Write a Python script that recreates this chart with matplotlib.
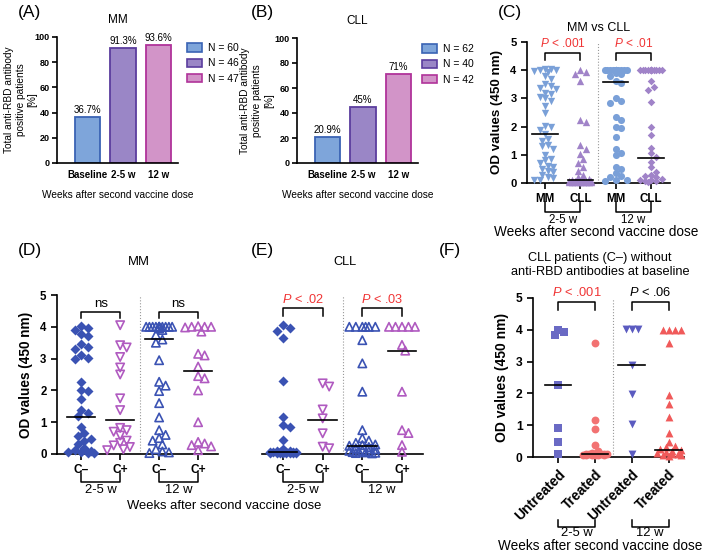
import numpy as np
import matplotlib
matplotlib.use('Agg')
import matplotlib.pyplot as plt
from matplotlib.patches import Patch

plt.rcParams['font.family'] = 'Liberation Sans'
plt.rcParams['mathtext.fontset'] = 'custom'
plt.rcParams['mathtext.rm'] = 'Liberation Sans'
plt.rcParams['mathtext.it'] = 'Liberation Sans:italic'

W, H = 709, 554

# ---- data ----
bar_cats = ['Baseline', '2-5 w', '12 w']
mm_pct = [36.7, 91.3, 93.6]
mm_pct_lbl = ['36.7%', '91.3%', '93.6%']
mm_n = [60, 46, 47]
cll_pct = [20.9, 45, 71]
cll_pct_lbl = ['20.9%', '45%', '71%']
cll_n = [62, 40, 42]

# (C) MM vs CLL
c_cats = ['MM', 'CLL', 'MM', 'CLL']
c_mm25 = [4.05, 4.03, 4.0, 4.0, 3.98, 3.95, 3.78, 3.7, 3.5, 3.45, 3.38, 3.32, 3.2, 3.15,
          3.05, 3.0, 2.9, 2.72, 2.5, 2.02, 1.98, 1.88, 1.72, 1.55, 1.5, 1.35, 1.3, 1.2,
          1.0, 0.85, 0.8, 0.72, 0.62, 0.58, 0.5, 0.42, 0.38, 0.3, 0.22, 0.18, 0.12, 0.1]
c_cll25 = [4.0, 3.92, 3.85, 3.62, 2.25, 2.15, 1.35, 1.2, 1.02, 0.85, 0.7, 0.55, 0.42, 0.3,
           0.22, 0.15, 0.1, 0.09, 0.08, 0.08, 0.07, 0.07, 0.06, 0.06, 0.05, 0.05, 0.05,
           0.04, 0.04, 0.03, 0.03, 0.03, 0.02, 0.02, 0.02, 0.02]
c_mm12 = [4.0] * 18 + [3.9, 3.85, 3.8, 3.6, 3.55, 3.0, 2.9, 2.85, 2.35, 2.25, 2.0, 1.95,
                       1.62, 1.2, 1.05, 1.0, 0.55, 0.5, 0.35, 0.25, 0.2, 0.12, 0.1, 0.08]
c_cll12 = [4.0] * 14 + [3.6, 3.42, 3.3, 2.87, 1.98, 1.7, 1.25, 1.05, 0.92, 0.75, 0.55, 0.4,
                        0.3, 0.25, 0.2, 0.15, 0.12, 0.1, 0.08, 0.06, 0.05]
c_med = [1.72, 0.1, 3.58, 0.9]

# (D) MM, C- / C+
d_cats = ['C–', 'C+', 'C–', 'C+']
d_25_cneg = [4.02, 3.97, 3.9, 3.78, 3.72, 3.45, 3.35, 3.3, 3.1, 3.02, 2.98, 2.27, 2.0,
             1.97, 1.72, 1.38, 1.3, 1.18, 0.85, 0.65, 0.58, 0.48, 0.42, 0.3, 0.2, 0.12,
             0.08, 0.06, 0.05, 0.04, 0.03]
d_25_cpos = [4.05, 3.42, 3.35, 3.05, 2.72, 2.5, 1.75, 1.38, 0.82, 0.75, 0.7, 0.58, 0.42,
             0.35, 0.27, 0.22, 0.15, 0.12]
d_12_cneg = [4.0] * 12 + [3.95, 3.9, 3.75, 3.6, 3.5, 2.95, 2.27, 2.15, 1.98, 1.6, 1.15,
                          0.75, 0.6, 0.5, 0.42, 0.3, 0.15, 0.08, 0.05, 0.03]
d_12_cpos = [4.02, 4.0, 4.0, 3.98, 4.0, 3.85, 3.15, 3.1, 2.75, 2.45, 2.38, 2.0, 1.0, 0.38,
             0.33, 0.28, 0.24, 0.12]
d_med = [1.17, 1.08, 3.63, 2.62]

# (E) CLL, C- / C+
e_25_cneg = [4.05, 3.97, 3.88, 3.65, 2.28, 1.17, 0.92, 0.85, 0.44, 0.15, 0.1, 0.08, 0.07,
             0.06, 0.06, 0.05, 0.05, 0.05, 0.04, 0.04, 0.04, 0.03, 0.03, 0.03, 0.02, 0.02]
e_25_cpos = [2.22, 2.12, 1.4, 1.12, 0.65, 0.23, 0.18]
e_12_cneg = [4.0] * 6 + [3.58, 2.85, 1.96, 0.75, 0.5, 0.42, 0.35, 0.3, 0.28, 0.26, 0.22,
                         0.18, 0.15, 0.12, 0.1, 0.08, 0.07, 0.06, 0.05, 0.04, 0.03, 0.02]
e_12_cpos = [4.0, 4.0, 4.0, 4.0, 4.0, 3.43, 3.25, 1.96, 0.75, 0.66, 0.28, 0.07]
e_med = [0.07, 1.07, 0.26, 3.24]

# (F) CLL C- untreated / treated
f_cats = ['Untreated', 'Treated', 'Untreated', 'Treated']
f_un25 = [3.83, 3.94, 4.0, 2.26, 0.9, 0.47, 0.11]
f_tr25 = [3.6, 1.15, 0.87, 0.37, 0.2, 0.12, 0.11, 0.1, 0.1, 0.09, 0.09, 0.08, 0.08, 0.07,
          0.07, 0.06, 0.06, 0.05, 0.05]
f_un12 = [4.03, 4.03, 4.03, 2.88, 1.98, 1.04, 0.11]
f_tr12 = [4.0, 4.0, 4.0, 3.98, 3.57, 1.95, 1.68, 1.27, 0.75, 0.47, 0.35, 0.3, 0.25, 0.22,
          0.2, 0.15, 0.12, 0.1, 0.08, 0.06, 0.05, 0.04]
f_med = [2.26, 0.1, 2.88, 0.22]

RED = '#f03535'
LBLUE = '#7aa0d8'
LPURP = '#a083c8'
DBLUE = '#3a52b3'
PURP = '#b05ac0'
bar_face = ['#7ea5da', '#9a86c6', '#d294c8']
bar_edge = ['#3a63b4', '#5b3d9e', '#b0339a']

fig = plt.figure(figsize=(W / 100, H / 100), dpi=100)


def add_axes(l, r, t, b):
    return fig.add_axes([l / W, 1 - b / H, (r - l) / W, (b - t) / H])


def style(ax, lw=1.2):
    for s in ['top', 'right']:
        ax.spines[s].set_visible(False)
    for s in ['left', 'bottom']:
        ax.spines[s].set_linewidth(lw)
    ax.tick_params(width=lw, length=4, direction='out')


def swarm(vals, sx, sy, diam, wmax):
    vals = np.asarray(vals, float)
    order = np.argsort(-vals, kind='stable')
    step = diam * 0.5
    cands = [0.0]
    k = 1
    while k * step <= wmax:
        cands += [k * step, -k * step]
        k += 1
    placed = []
    offs = np.zeros(len(vals))
    for i in order:
        y = vals[i] * sy
        best, best_d = 0.0, -1
        for c in cands:
            dmin = min((np.hypot(c - px, y - py) for px, py in placed), default=1e9)
            if dmin >= diam:
                best = c
                break
            if dmin > best_d:
                best_d, best = dmin, c
        placed.append((best, y))
        offs[i] = best / sx
    return offs


def bar_panel(ax, pct, lbls, ns, title, ylab_x):
    x = np.arange(len(pct))
    ax.bar(x, pct, width=0.73, color=bar_face, edgecolor=bar_edge, linewidth=1.3)
    for xi, p, l in zip(x, pct, lbls):
        ax.text(xi, p + 1.5, l, ha='center', va='bottom', fontsize=7)
    ax.set_xlim(-0.86, 2.55)
    ax.set_ylim(0, 100)
    ax.set_yticks(np.arange(0, 101, 20))
    ax.set_xticks(x)
    ax.set_xticklabels(bar_cats, fontweight='bold', fontsize=7)
    style(ax)
    ax.tick_params(axis='x', length=0, pad=5)
    ax.tick_params(axis='y', labelsize=6.5, length=3.5, pad=2)
    for t in ax.get_yticklabels():
        t.set_fontweight('bold')
    ax.set_title(title, fontsize=8.5, pad=10)
    ax.set_ylabel('Total anti-RBD antibody\npositive patients\n[%]', fontsize=7.3,
                  linespacing=1.25)
    ax.yaxis.set_label_coords(ylab_x, 0.5)
    ax.set_xlabel('Weeks after second vaccine dose', fontsize=7.3, labelpad=7)
    handles = [Patch(facecolor=f, edgecolor=e, lw=1.2, label=f'N = {n}')
               for f, e, n in zip(bar_face, bar_edge, ns)]
    return handles


def od_panel(ax, groups, meds, styles, xlim, cats, fs, yaxis=True, wmax=13, diam=6):
    ax.set_xlim(*xlim)
    ax.set_ylim(0, 5)
    fig.canvas.draw()
    bb = ax.get_window_extent()
    sx = bb.width / (xlim[1] - xlim[0])
    sy = bb.height / 5
    ax.axvline(1.5, color='#999999', ls=':', lw=0.8)
    for i, (vals, st) in enumerate(zip(groups, styles)):
        off = swarm(vals, sx, sy, diam, wmax)
        ax.scatter(i + off, vals, clip_on=False, zorder=3, **st)
    for i, m in enumerate(meds):
        ax.plot([i - 0.36, i + 0.36], [m, m], color='k', lw=1.2, zorder=4)
    ax.set_xticks(range(4))
    ax.set_xticklabels(cats, fontweight='bold', fontsize=fs)
    style(ax)
    if yaxis:
        ax.set_yticks(range(6))
        ax.tick_params(axis='y', labelsize=fs - 0.3)
        for t in ax.get_yticklabels():
            t.set_fontweight('bold')
        ax.set_ylabel('OD values (450 nm)', fontweight='bold', fontsize=fs + 1.2, labelpad=5)
    else:
        ax.spines['left'].set_visible(False)
        ax.set_yticks([])


def p_bracket(ax, x0, x1, yl, ye, label, yt, color, fs):
    ax.plot([x0, x0, x1, x1], [ye, yl, yl, ye], color='k', lw=1.1, clip_on=False)
    ax.text((x0 + x1) / 2, yt, label, ha='center', va='center', color=color,
            fontsize=fs, clip_on=False)


def group_bracket(ax, x0, x1, yt, yb, label, ytxt, fs):
    tr = ax.get_xaxis_transform()
    ax.plot([x0, x0, x1, x1], [yt, yb, yb, yt], color='k', lw=1.1, transform=tr,
            clip_on=False)
    ax.text((x0 + x1) / 2, ytxt, label, transform=tr, ha='center', va='center',
            fontsize=fs)


# ---- (A) ----
axA = add_axes(57, 178, 37, 163)
h = bar_panel(axA, mm_pct, mm_pct_lbl, mm_n, 'MM', -0.16)
axA.legend(handles=h, loc='upper left', bbox_to_anchor=(182 / W, 1 - 38 / H),
           bbox_transform=fig.transFigure, frameon=False, fontsize=7.5, borderpad=0,
           handlelength=1.4, handleheight=0.85, handletextpad=0.6, labelspacing=0.5)
fig.text(30 / W, 1 - 12 / H, '(A)', fontsize=12.5, ha='center', va='center')

# ---- (B) ----
axB = add_axes(297, 418, 38, 163)
h = bar_panel(axB, cll_pct, cll_pct_lbl, cll_n, 'CLL', -0.19)
axB.legend(handles=h, loc='upper left', bbox_to_anchor=(417 / W, 1 - 39 / H),
           bbox_transform=fig.transFigure, frameon=False, fontsize=7.5, borderpad=0,
           handlelength=1.4, handleheight=0.85, handletextpad=0.6, labelspacing=0.5)
fig.text(262 / W, 1 - 12 / H, '(B)', fontsize=12.5, ha='center', va='center')

# ---- (C) ----
axC = add_axes(527, 670, 42, 183)
c_styles = [dict(marker='v', s=28, color=LBLUE, linewidths=0),
            dict(marker='^', s=28, color=LPURP, linewidths=0),
            dict(marker='o', s=26, color=LBLUE, linewidths=0),
            dict(marker='D', s=15, color=LPURP, linewidths=0)]
od_panel(axC, [c_mm25, c_cll25, c_mm12, c_cll12], c_med, c_styles, (-0.51, 3.54), c_cats,
         8.4, wmax=11, diam=5.5)
axC.set_title('MM vs CLL', fontsize=9, pad=8)
p_bracket(axC, 0, 1, 4.6, 4.36, r'$\mathit{P}$ < .001', 4.95, RED, 8.6)
p_bracket(axC, 2, 3, 4.6, 4.36, r'$\mathit{P}$ < .01', 4.95, RED, 8.6)
group_bracket(axC, 0, 1, -0.135, -0.206, '2-5 w', -0.262, 8.3)
group_bracket(axC, 2, 3, -0.135, -0.206, '12 w', -0.262, 8.3)
fig.text(596 / W, 1 - 232 / H, 'Weeks after second vaccine dose', fontsize=9.8,
         ha='center', va='center')
fig.text(510 / W, 1 - 13 / H, '(C)', fontsize=12.5, ha='center', va='center')

# ---- (D) ----
axD = add_axes(57, 218, 295, 454)
d_styles = [dict(marker='D', s=26, color=DBLUE, linewidths=0),
            dict(marker='v', s=36, facecolors='none', edgecolors=PURP, linewidths=1.2),
            dict(marker='^', s=36, facecolors='none', edgecolors=DBLUE, linewidths=1.2),
            dict(marker='^', s=36, facecolors='none', edgecolors=PURP, linewidths=1.2)]
od_panel(axD, [d_25_cneg, d_25_cpos, d_12_cneg, d_12_cpos], d_med, d_styles,
         (-0.62, 3.51), d_cats, 8.6, wmax=14, diam=6.5)
p_bracket(axD, 0, 1, 4.47, 4.27, 'ns', 4.72, 'k', 9.5)
p_bracket(axD, 2, 3, 4.47, 4.27, 'ns', 4.72, 'k', 9.5)
group_bracket(axD, 0, 1, -0.12, -0.176, '2-5 w', -0.228, 9.4)
group_bracket(axD, 2, 3, -0.12, -0.176, '12 w', -0.228, 9.4)
fig.text(139 / W, 1 - 262 / H, 'MM', fontsize=9.4, ha='center', va='center')
fig.text(224 / W, 1 - 506 / H, 'Weeks after second vaccine dose', fontsize=9.4,
         ha='center', va='center')
fig.text(30 / W, 1 - 250 / H, '(D)', fontsize=12.5, ha='center', va='center')

# ---- (E) ----
axE = add_axes(262, 423, 295, 454)
od_panel(axE, [e_25_cneg, e_25_cpos, e_12_cneg, e_12_cpos], e_med, d_styles,
         (-0.53, 3.53), d_cats, 8.6, yaxis=False, wmax=14, diam=6.5)
p_bracket(axE, 0, 1, 4.59, 4.34, r'$\mathit{P}$ < .02', 4.87, RED, 9.2)
p_bracket(axE, 2, 3, 4.59, 4.34, r'$\mathit{P}$ < .03', 4.87, RED, 9.2)
group_bracket(axE, 0, 1, -0.12, -0.176, '2-5 w', -0.228, 9.4)
group_bracket(axE, 2, 3, -0.12, -0.176, '12 w', -0.228, 9.4)
fig.text(345 / W, 1 - 262 / H, 'CLL', fontsize=9.2, ha='center', va='center')
fig.text(262 / W, 1 - 250 / H, '(E)', fontsize=12.5, ha='center', va='center')
fig.text(450 / W, 1 - 250 / H, '(F)', fontsize=12.5, ha='center', va='center')

# ---- (F) ----
axF = add_axes(533, 684, 298, 457)
f_styles = [dict(marker='s', s=26, color='#6a6ac4', linewidths=0),
            dict(marker='o', s=32, color='#f27272', linewidths=0),
            dict(marker='v', s=32, color='#5b5bc0', linewidths=0),
            dict(marker='^', s=32, color='#f05a5a', linewidths=0)]
od_panel(axF, [f_un25, f_tr25, f_un12, f_tr12], f_med, f_styles, (-0.68, 3.42), f_cats,
         9, wmax=13, diam=6)
for t in axF.get_xticklabels():
    t.set_rotation(45)
    t.set_ha('right')
    t.set_rotation_mode('anchor')
    t.set_fontsize(10)
axF.set_ylabel('OD values (450 nm)', fontweight='bold', fontsize=10, labelpad=5)
p_bracket(axF, 0, 1, 4.88, 4.62, r'$\mathit{P}$ < .001', 5.18, RED, 9.3)
p_bracket(axF, 2, 3, 4.88, 4.62, r'$\mathit{P}$ < .06', 5.18, 'k', 9.3)
group_bracket(axF, 0, 1, -0.396, -0.44, '2-5 w', -0.48, 9.4)
group_bracket(axF, 2, 3, -0.396, -0.44, '12 w', -0.48, 9.4)
fig.text(600 / W, 1 - 265 / H, 'CLL patients (C–) without\nanti-RBD antibodies at baseline',
         fontsize=9.2, ha='center', va='center', linespacing=1.25)
fig.text(600 / W, 1 - 546 / H, 'Weeks after second vaccine dose', fontsize=9.8,
         ha='center', va='center')

fig.savefig('out.png', dpi=100)
